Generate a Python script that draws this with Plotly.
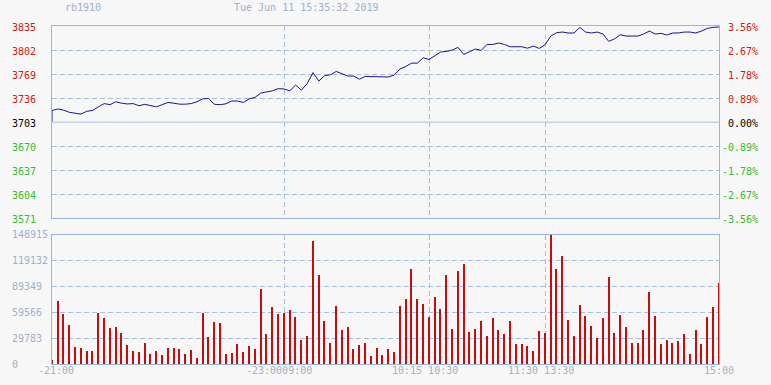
import plotly.graph_objects as go

# ---------------- data ----------------
symbol = "rb1910"
timestamp = "Tue Jun 11 15:35:32 2019"
base_price = 3703
price_ticks = [3571, 3604, 3637, 3670, 3703, 3736, 3769, 3802, 3835]
vol_ticks = [0, 29783, 59566, 89349, 119132, 148915]

# trading minutes since 21:00 (night 21:00-23:00, 09:00-10:15, 10:30-11:30, 13:30-15:00)
session_breaks = [120, 195, 255]
x_labels = ["-21:00", "-23:0009:00", "10:15 10:30", "11:30 13:30", "15:00"]
x_label_pos = [0, 120, 195, 255, 345]

step_minutes = list(range(0, 346, 3))
price_minutes = [0] + step_minutes
prices = [3704,
    3719, 3721, 3719.5, 3716.5, 3715, 3714, 3718, 3719, 3724, 3728.5,
    3727, 3731, 3729, 3728, 3728.5, 3725.5, 3727.5, 3725.5, 3724, 3727,
    3730, 3729, 3727.7, 3727.7, 3728.5, 3731, 3735, 3735.5, 3727.5, 3727,
    3728.2, 3732, 3732, 3730, 3735, 3737, 3743, 3744.5, 3746, 3749,
    3748.5, 3746, 3753.9, 3747, 3756, 3771, 3759.4, 3766.7, 3768, 3772.6,
    3769, 3766.3, 3766.3, 3762, 3765.7, 3765.7, 3765.7, 3765, 3765, 3767.6,
    3776, 3779.5, 3784, 3784, 3791.4, 3789, 3794.6, 3799.3, 3800, 3802,
    3805.6, 3796, 3799.7, 3803.4, 3801.5, 3809.7, 3809.7, 3811.6, 3809.7, 3806.5,
    3806.5, 3806.5, 3804.5, 3807.5, 3804.2, 3809.3, 3821.2, 3825.8, 3826.7, 3825.4,
    3825.4, 3833.1, 3826.7, 3825.4, 3826.7, 3824, 3813.8, 3817.5, 3823, 3821.2,
    3821.2, 3821.2, 3824, 3828.1, 3824, 3824.9, 3822.6, 3825.4, 3825.4, 3826.7,
    3826.7, 3825.4, 3828.1, 3831.8, 3833.1, 3833.6]

volumes = [
    5000, 72700, 57700, 45000, 20000, 18800, 15400, 15000, 59200, 53100,
    41600, 43100, 35800, 21900, 15000, 13900, 24200, 11500, 15000, 10400,
    18800, 18800, 17700, 11900, 16200, 7300, 59200, 31200, 48500, 47300,
    11900, 12700, 23100, 13900, 20800, 17700, 86900, 34600, 65800, 57700,
    59200, 62300, 54300, 27700, 32300, 142000, 102700, 49600, 24200, 67000,
    39200, 42700, 17300, 21900, 24200, 9200, 18500, 10400, 17300, 13900,
    67000, 75000, 109700, 75000, 69300, 54300, 77300, 63500, 102700, 40400,
    107400, 115400, 36900, 40400, 49600, 32300, 53100, 39200, 34600, 49600,
    23100, 23100, 20800, 15000, 38100, 35800, 148915, 109700, 124700, 50800,
    32300, 68100, 55400, 43900, 30000, 53100, 100400, 35800, 56600, 42700,
    24200, 24200, 39200, 83100, 55400, 23100, 27700, 24200, 26600, 34600,
    11500, 39200, 23100, 54300, 65800, 93500]

# ---------------- styles ----------------
W, H = 771, 385
BG = "#f7f7f7"
BOX = "#9db5d5"
GRID = "#a9bfd9"
RED = "#d01818"
GREEN = "#2ec02e"
BLACK = "#000000"
MUTED = "#9fb1c8"
LINE = "#16168e"
BAR = "#c40e0e"
FONT = "DejaVu Sans Mono"
ML, MR, MT, MB = 52, 52, 26, 21
PW = W - ML - MR
PH = H - MT - MB

fig = go.Figure()
fig.add_trace(go.Scatter(x=price_minutes, y=prices, mode="lines",
                         line=dict(color=LINE, width=1), hoverinfo="skip",
                         xaxis="x", yaxis="y"))
fig.add_trace(go.Bar(x=step_minutes, y=volumes, width=0.75,
                     marker=dict(color=BAR, line=dict(width=0)),
                     hoverinfo="skip", xaxis="x2", yaxis="y2"))

# solid base-price line
fig.add_shape(type="line", xref="x domain", yref="y", x0=0, x1=1,
              y0=base_price, y1=base_price, line=dict(color=GRID, width=1))

price_dom = [(H - MB - 218.3 - 0) / PH, 1]
price_dom[0] = (H - MB - 218.3) / PH
vol_dom = [0, (H - MB - 235) / PH]

common_x = dict(range=[0, 345], tickvals=session_breaks, showticklabels=False,
                showgrid=True, gridcolor=GRID, griddash="5px,3px", gridwidth=1,
                showline=True, linecolor=BOX, linewidth=1, mirror=True,
                zeroline=False, ticks="", fixedrange=True)
fig.update_layout(
    width=W, height=H, margin=dict(l=ML, r=MR, t=MT, b=MB),
    paper_bgcolor=BG, plot_bgcolor=BG, showlegend=False, bargap=0,
    font=dict(family=FONT, size=10),
    xaxis=dict(domain=[0, 1], anchor="y", **common_x),
    xaxis2=dict(domain=[0, 1], anchor="y2", **common_x),
    yaxis=dict(domain=price_dom, range=[price_ticks[0], price_ticks[-1]],
               tickvals=[t for t in price_ticks if t != base_price],
               showticklabels=False, showgrid=True, gridcolor=GRID,
               griddash="5px,3px", showline=True, linecolor=BOX, mirror=True,
               zeroline=False, ticks="", fixedrange=True),
    yaxis2=dict(domain=vol_dom, range=[vol_ticks[0], vol_ticks[-1]],
                tickvals=vol_ticks, showticklabels=False, showgrid=True,
                gridcolor=GRID, griddash="5px,3px", showline=True,
                linecolor=BOX, mirror=True, zeroline=False, ticks="",
                fixedrange=True),
)

ann = []
left_x = (10 - ML) / PW
right_x = (760 - ML) / PW
for t in price_ticks:
    col = RED if t > base_price else (GREEN if t < base_price else BLACK)
    pct = (t - base_price) / base_price * 100
    ann.append(dict(x=left_x, xref="paper", y=t, yref="y", text=str(t),
                    xanchor="left", yanchor="middle", yshift=-1,
                    showarrow=False, font=dict(color=col, size=10, family=FONT)))
    ann.append(dict(x=right_x, xref="paper", y=t, yref="y", text=f"{pct:.2f}%",
                    xanchor="right", yanchor="middle", yshift=-1,
                    showarrow=False, font=dict(color=col, size=10, family=FONT)))
for v in vol_ticks:
    ann.append(dict(x=left_x, xref="paper", y=v, yref="y2", text=str(v),
                    xanchor="left", yanchor="middle", yshift=0,
                    showarrow=False, font=dict(color=MUTED, size=10, family=FONT)))
x_shifts = [4, -5, -4, -4, 0]
for lab, pos, sh in zip(x_labels, x_label_pos, x_shifts):
    ann.append(dict(x=pos, xref="x2", y=0, yref="paper", text=lab,
                    xanchor="center", yanchor="top", xshift=sh, yshift=1,
                    showarrow=False, font=dict(color=MUTED, size=10, family=FONT)))
ann.append(dict(x=(63 - ML) / PW, xref="paper", y=1, yref="paper", text=symbol,
                xanchor="left", yanchor="middle", yshift=19, showarrow=False,
                font=dict(color=MUTED, size=10, family=FONT)))
ann.append(dict(x=(232 - ML) / PW, xref="paper", y=1, yref="paper", text=timestamp,
                xanchor="left", yanchor="middle", yshift=19, showarrow=False,
                font=dict(color=MUTED, size=10, family=FONT)))
fig.update_layout(annotations=ann)

fig.write_html("out.html", config={"displayModeBar": False})
